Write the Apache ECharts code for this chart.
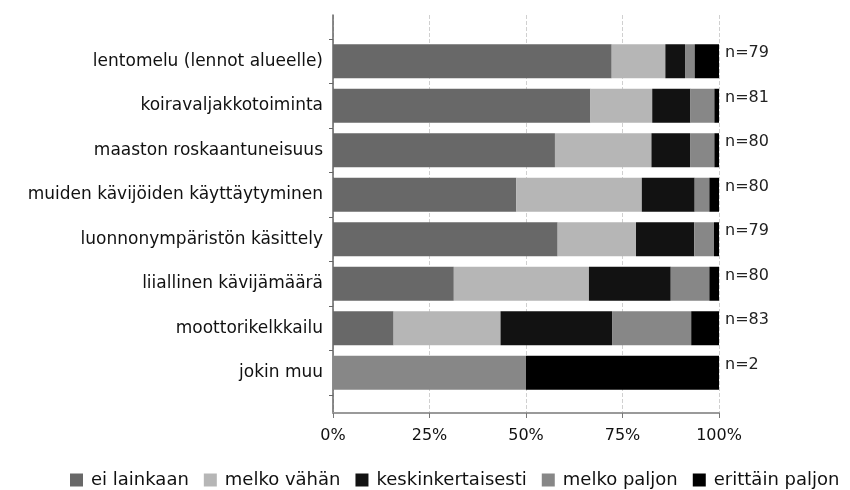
<!DOCTYPE html>
<html>
<head>
<meta charset="utf-8">
<script src="https://cdn.jsdelivr.net/npm/echarts@6/dist/echarts.min.js"></script>
<style>html,body{margin:0;padding:0;background:#fff}#c{width:850px;height:490px}</style>
</head>
<body>
<div id="c"></div>
<script>
const categories = ['lentomelu (lennot alueelle)', 'koiravaljakkotoiminta', 'maaston roskaantuneisuus', 'muiden kävijöiden käyttäytyminen', 'luonnonympäristön käsittely', 'liiallinen kävijämäärä', 'moottorikelkkailu', 'jokin muu'];
const nValues = [79, 81, 80, 80, 79, 80, 83, 2];
const seriesNames = ['ei lainkaan', 'melko vähän', 'keskinkertaisesti', 'melko paljon', 'erittäin paljon'];
const eiLainkaan = [72.2, 66.7, 57.5, 47.5, 58.2, 31.3, 15.7, 0];
const melkoVahan = [13.9, 16.0, 25.0, 32.5, 20.3, 35.0, 27.7, 0];
const keskinkertaisesti = [5.1, 9.9, 10.0, 13.7, 15.1, 21.2, 28.9, 0];
const melkoPaljon = [2.5, 6.2, 6.3, 3.8, 5.1, 10.0, 20.5, 50];
const erittainPaljon = [6.3, 1.2, 1.2, 2.5, 1.3, 2.5, 7.2, 50];
const xTicks = [0, 25, 50, 75, 100];

const colors = ['#686868', '#b6b6b6', '#121212', '#878787', '#000000'];
const FONT = 'DejaVu Sans';
const values = [eiLainkaan, melkoVahan, keskinkertaisesti, melkoPaljon, erittainPaljon];

const chart = echarts.init(document.getElementById('c'), null, {renderer: 'canvas'});
const series = values.map((arr, i) => ({
  name: seriesNames[i],
  type: 'bar',
  stack: 'all',
  xAxisIndex: 0,
  yAxisIndex: 0,
  barWidth: 34,
  data: arr,
  itemStyle: {color: colors[i]},
  label: i === 4 ? {
    show: true,
    position: 'right',
    distance: 6,
    offset: [0, -8],
    fontFamily: FONT,
    fontSize: 16,
    color: '#222',
    formatter: p => 'n=' + nValues[p.dataIndex]
  } : {show: false}
}));

chart.setOption({
  animation: false,
  color: colors,
  grid: [
    {left: 333, right: 131, top: 39, height: 356},
    {left: 333, right: 131, top: 15, bottom: 77}
  ],
  xAxis: [
    {gridIndex: 0, type: 'value', min: 0, max: 100, show: false},
    {gridIndex: 1, type: 'value', min: 0, max: 100, interval: 25,
      axisLine: {show: true, lineStyle: {color: '#9a9a9a', width: 2}},
      axisTick: {show: true, length: 5, lineStyle: {color: '#777'}},
      splitLine: {show: true, lineStyle: {type: 'dashed', color: '#d0d0d0'}},
      axisLabel: {margin: 15, fontFamily: FONT, fontSize: 16, color: '#111',
        formatter: v => xTicks.indexOf(v) >= 0 ? v + '%' : ''}
    }
  ],
  yAxis: [
    {gridIndex: 0, type: 'category', data: categories, inverse: true,
      axisLine: {show: false},
      axisTick: {show: true, length: 4, lineStyle: {color: '#666'}},
      axisLabel: {margin: 10, fontFamily: FONT, fontSize: 17, color: '#111'},
      splitLine: {show: false}
    },
    {gridIndex: 1, type: 'value', min: 0, max: 1,
      axisLine: {show: true, lineStyle: {color: '#666', width: 1.5}},
      axisTick: {show: false}, axisLabel: {show: false}, splitLine: {show: false}
    }
  ],
  legend: {
    data: seriesNames,
    left: 70,
    top: 471,
    width: 780,
    padding: 0,
    icon: 'rect',
    itemWidth: 13,
    itemHeight: 13,
    itemGap: 15,
    textStyle: {fontFamily: FONT, fontSize: 18, color: '#111', padding: [0, 0, 0, 3]}
  },
  series: series
});
</script>
</body>
</html>
